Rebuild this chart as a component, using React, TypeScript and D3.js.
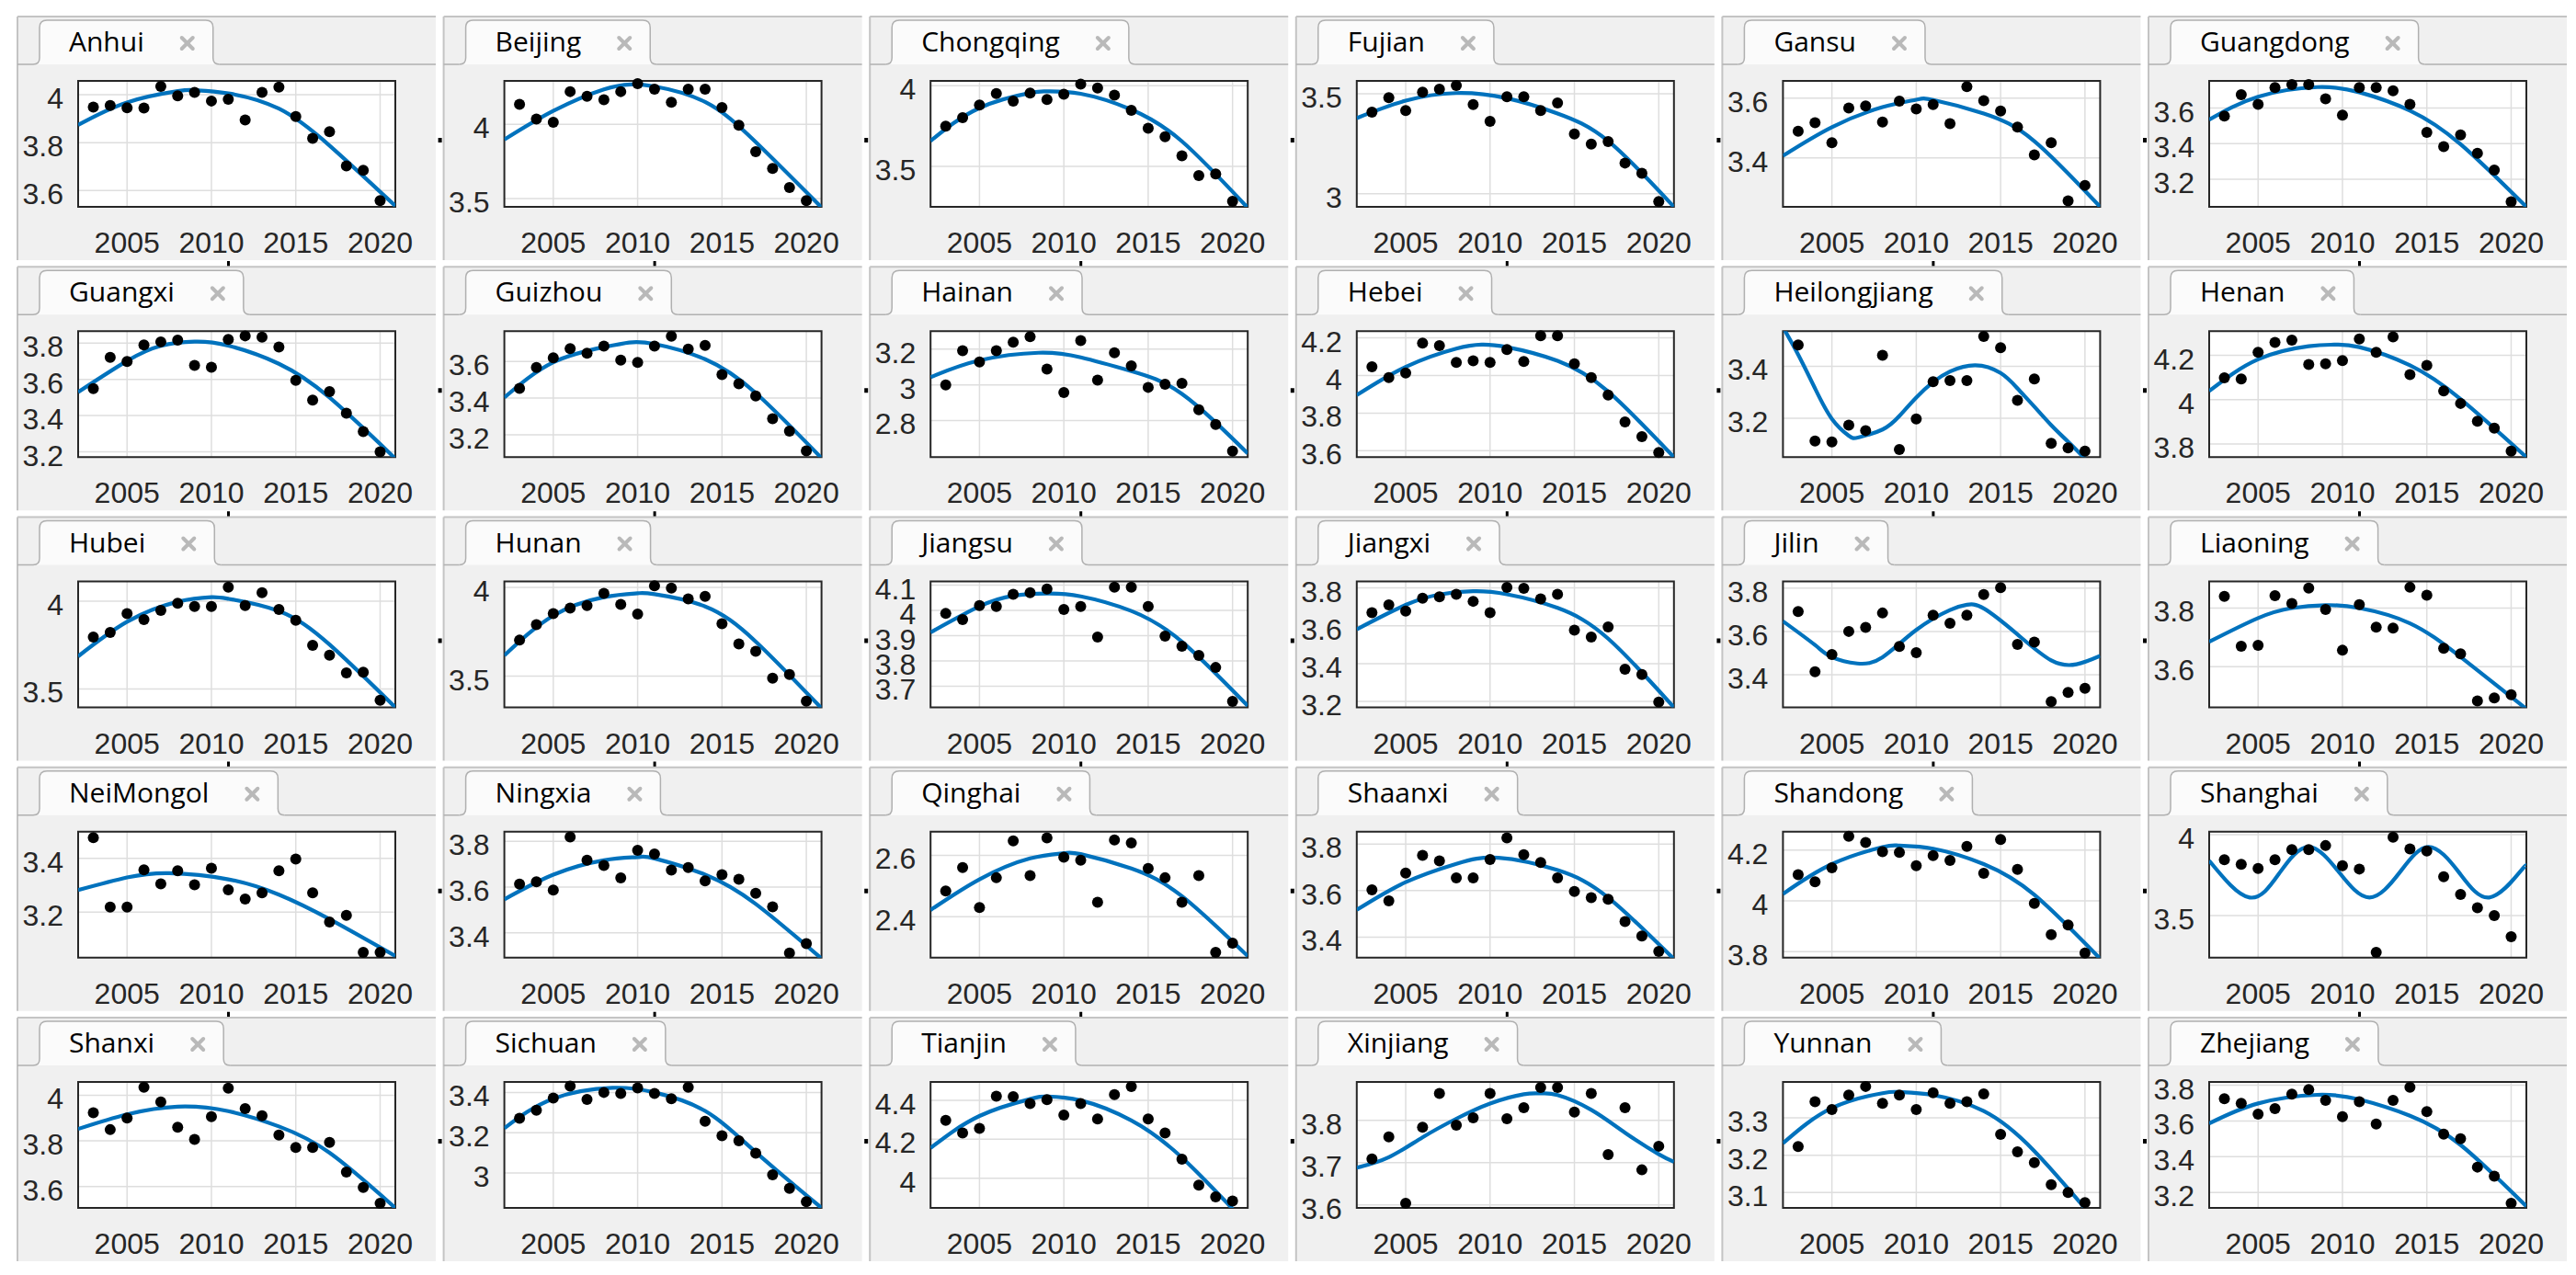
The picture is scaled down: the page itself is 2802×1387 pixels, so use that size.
import React from 'react';
import * as d3 from 'd3';

const provinces = ['Anhui','Beijing','Chongqing','Fujian','Gansu','Guangdong','Guangxi','Guizhou','Hainan','Hebei','Heilongjiang','Henan','Hubei','Hunan','Jiangsu','Jiangxi','Jilin','Liaoning','NeiMongol','Ningxia','Qinghai','Shaanxi','Shandong','Shanghai','Shanxi','Sichuan','Tianjin','Xinjiang','Yunnan','Zhejiang'];

const years = [2003,2004,2005,2006,2007,2008,2009,2010,2011,2012,2013,2014,2015,2016,2017,2018,2019,2020];
const xTicks = [2005, 2010, 2015, 2020];
const xDomain: [number, number] = [2002.1, 2020.9];

const values: number[][] = [
  [3.949,3.955,3.946,3.945,4.035,3.996,4.01,3.974,3.981,3.895,4.01,4.032,3.909,3.818,3.846,3.703,3.685,3.558],
  [4.134,4.035,4.014,4.220,4.189,4.165,4.220,4.274,4.237,4.148,4.237,4.237,4.113,3.994,3.815,3.702,3.574,3.486],
  [3.749,3.802,3.881,3.951,3.905,3.955,3.915,3.947,4.01,3.986,3.941,3.848,3.737,3.684,3.565,3.443,3.453,3.283],
  [3.408,3.480,3.416,3.508,3.523,3.541,3.446,3.362,3.485,3.485,3.416,3.454,3.298,3.248,3.260,3.153,3.102,2.960],
  [3.489,3.518,3.451,3.567,3.574,3.520,3.590,3.564,3.579,3.515,3.639,3.592,3.557,3.503,3.410,3.451,3.256,3.308],
  [3.555,3.675,3.621,3.715,3.732,3.732,3.652,3.561,3.715,3.715,3.697,3.621,3.463,3.384,3.449,3.346,3.252,3.074],
  [3.549,3.722,3.698,3.790,3.807,3.817,3.677,3.667,3.820,3.840,3.833,3.778,3.595,3.486,3.533,3.413,3.312,3.2],
  [3.453,3.567,3.62,3.67,3.645,3.683,3.607,3.595,3.683,3.737,3.667,3.687,3.528,3.478,3.412,3.287,3.22,3.112],
  [3.0,3.191,3.128,3.191,3.239,3.270,3.089,2.957,3.248,3.026,3.180,3.106,2.986,3.003,3.009,2.860,2.778,2.628],
  [4.046,3.989,4.013,4.172,4.159,4.070,4.078,4.07,4.138,4.075,4.211,4.211,4.062,3.989,3.896,3.753,3.675,3.591],
  [3.482,3.113,3.109,3.174,3.153,3.442,3.080,3.198,3.341,3.345,3.345,3.515,3.471,3.269,3.351,3.104,3.086,3.074],
  [4.099,4.093,4.214,4.258,4.269,4.159,4.162,4.176,4.274,4.214,4.283,4.113,4.155,4.039,3.983,3.903,3.872,3.768],
  [3.796,3.822,3.930,3.895,3.948,3.988,3.970,3.970,4.080,3.976,4.049,3.953,3.892,3.749,3.692,3.592,3.596,3.436],
  [3.703,3.79,3.853,3.884,3.898,3.967,3.905,3.850,4.009,3.997,3.936,3.95,3.795,3.681,3.640,3.488,3.509,3.359],
  [3.988,3.964,4.019,4.016,4.064,4.07,4.085,4.004,4.016,3.895,4.092,4.092,4.016,3.898,3.858,3.822,3.774,3.640],
  [3.669,3.710,3.677,3.745,3.753,3.766,3.729,3.669,3.803,3.798,3.742,3.766,3.577,3.540,3.594,3.371,3.342,3.197],
  [3.692,3.414,3.493,3.6,3.619,3.685,3.530,3.502,3.675,3.638,3.675,3.770,3.802,3.540,3.551,3.276,3.318,3.337],
  [3.840,3.670,3.673,3.842,3.816,3.868,3.795,3.656,3.812,3.735,3.732,3.871,3.844,3.663,3.644,3.483,3.493,3.504],
  [3.477,3.219,3.219,3.357,3.305,3.354,3.302,3.363,3.283,3.249,3.272,3.354,3.397,3.272,3.163,3.188,3.051,3.051],
  [3.613,3.623,3.587,3.819,3.717,3.694,3.640,3.761,3.744,3.674,3.685,3.627,3.654,3.634,3.573,3.513,3.311,3.352],
  [2.484,2.56,2.43,2.527,2.647,2.534,2.657,2.594,2.584,2.447,2.65,2.64,2.557,2.527,2.447,2.534,2.284,2.314],
  [3.603,3.556,3.675,3.751,3.728,3.655,3.655,3.734,3.826,3.754,3.721,3.655,3.596,3.570,3.563,3.467,3.405,3.339],
  [4.103,4.075,4.131,4.255,4.230,4.194,4.191,4.139,4.179,4.16,4.215,4.109,4.242,4.124,3.990,3.867,3.905,3.794],
  [3.846,3.817,3.792,3.846,3.908,3.908,3.933,3.808,3.788,3.273,3.985,3.913,3.900,3.740,3.631,3.548,3.5,3.369],
  [3.923,3.849,3.900,4.035,3.970,3.860,3.806,3.906,4.031,3.941,3.910,3.825,3.771,3.771,3.793,3.663,3.596,3.526],
  [3.272,3.311,3.372,3.431,3.365,3.4,3.395,3.422,3.395,3.369,3.426,3.257,3.185,3.160,3.098,2.991,2.923,2.857],
  [4.298,4.232,4.256,4.422,4.419,4.384,4.404,4.325,4.384,4.305,4.430,4.471,4.305,4.232,4.098,3.964,3.904,3.882],
  [3.709,3.761,3.604,3.784,3.864,3.789,3.806,3.864,3.804,3.830,3.878,3.878,3.820,3.864,3.719,3.830,3.683,3.739],
  [3.223,3.343,3.322,3.361,3.384,3.339,3.361,3.322,3.367,3.339,3.343,3.364,3.256,3.209,3.180,3.121,3.100,3.073],
  [3.724,3.698,3.638,3.669,3.750,3.775,3.715,3.624,3.707,3.583,3.715,3.789,3.652,3.526,3.501,3.342,3.291,3.140],
];

const yDomains: [number, number][] = [
  [3.532,4.058],[3.444,4.292],[3.249,4.03],[2.934,3.564],[3.236,3.658],[3.045,3.753],
  [3.171,3.866],[3.078,3.765],[2.595,3.301],[3.566,4.236],[3.051,3.535],[3.741,4.309],
  [3.395,4.113],[3.324,4.034],[3.616,4.115],[3.169,3.834],[3.249,3.831],[3.461,3.891],
  [3.031,3.499],[3.291,3.842],[2.267,2.677],[3.312,3.853],[3.776,4.273],[3.240,4.019],
  [3.506,4.058],[2.826,3.452],[3.847,4.495],[3.593,3.891],[3.059,3.396],[3.114,3.818],
];

const yTicks: number[][] = [
  [3.6,3.8,4],[3.5,4],[3.5,4],[3,3.5],[3.4,3.6],[3.2,3.4,3.6],
  [3.2,3.4,3.6,3.8],[3.2,3.4,3.6],[2.8,3,3.2],[3.6,3.8,4,4.2],[3.2,3.4],[3.8,4,4.2],
  [3.5,4],[3.5,4],[3.7,3.8,3.9,4,4.1],[3.2,3.4,3.6,3.8],[3.4,3.6,3.8],[3.6,3.8],
  [3.2,3.4],[3.4,3.6,3.8],[2.4,2.6],[3.4,3.6,3.8],[3.8,4,4.2],[3.5,4],
  [3.6,3.8,4],[3,3.2,3.4],[4,4.2,4.4],[3.6,3.7,3.8],[3.1,3.2,3.3],[3.2,3.4,3.6,3.8],
];

// fitted curves as [year, value] knots
const fitCurves: [number, number][][] = [
  [[2002.1,3.874],[2005,3.968],[2008,4.015],[2009,4.019],[2011,4.006],[2014,3.942],[2017,3.788],[2020.9,3.536]],
  [[2002.1,3.897],[2005,4.09],[2008,4.235],[2009.6,4.268],[2011,4.255],[2014,4.15],[2017,3.88],[2020.9,3.44]],
  [[2002.1,3.658],[2005,3.862],[2008,3.955],[2009,3.965],[2011,3.95],[2014,3.852],[2017,3.655],[2020.9,3.243]],
  [[2002.1,3.378],[2005,3.465],[2008,3.503],[2011,3.477],[2014,3.401],[2017,3.263],[2020.9,2.934]],
  [[2002.1,3.407],[2005,3.503],[2008,3.570],[2010,3.595],[2011,3.594],[2014,3.549],[2017,3.456],[2020.9,3.236]],
  [[2002.1,3.535],[2005,3.664],[2008.5,3.718],[2011,3.689],[2014,3.586],[2017,3.397],[2020.9,3.045]],
  [[2002.1,3.530],[2005,3.702],[2007,3.785],[2009,3.808],[2011,3.786],[2014,3.686],[2017,3.5],[2020.9,3.163]],
  [[2002.1,3.403],[2005,3.595],[2008,3.678],[2009.5,3.703],[2011,3.695],[2014,3.612],[2017,3.428],[2020.9,3.073]],
  [[2002.1,3.043],[2005,3.137],[2008.5,3.18],[2011,3.154],[2014,3.077],[2017,2.949],[2020.9,2.616]],
  [[2002.1,3.896],[2005,4.046],[2008,4.143],[2009.5,4.164],[2011,4.151],[2014,4.078],[2017,3.915],[2020.9,3.566]],
  [[2002.1,3.55],[2003,3.445],[2004,3.315],[2005,3.198],[2006,3.133],[2006.6,3.127],[2008,3.157],[2009,3.209],[2010,3.28],[2011,3.339],[2012,3.38],[2013.5,3.404],[2015,3.374],[2016,3.315],[2017,3.245],[2018,3.174],[2019,3.11],[2020,3.045],[2020.9,2.985]],
  [[2002.1,4.039],[2005,4.182],[2008,4.241],[2009.5,4.248],[2011,4.237],[2014,4.155],[2017,4.003],[2020.9,3.741]],
  [[2002.1,3.686],[2005,3.883],[2008,3.997],[2010,4.023],[2011,4.014],[2014,3.944],[2017,3.753],[2020.9,3.395]],
  [[2002.1,3.617],[2005,3.841],[2008,3.945],[2010,3.967],[2011,3.962],[2014,3.893],[2017,3.695],[2020.9,3.319]],
  [[2002.1,3.913],[2005,4.016],[2007,4.058],[2009,4.067],[2011,4.056],[2014,3.998],[2017,3.876],[2020.9,3.622]],
  [[2002.1,3.581],[2005,3.710],[2007,3.765],[2009,3.782],[2011,3.766],[2014,3.694],[2017,3.532],[2020.9,3.169]],
  [[2002.1,3.647],[2004,3.537],[2005,3.481],[2006.5,3.452],[2008,3.481],[2010,3.607],[2012,3.699],[2013,3.723],[2014,3.706],[2016,3.586],[2018,3.466],[2019.5,3.448],[2020.9,3.487]],
  [[2002.1,3.685],[2005,3.766],[2007,3.80],[2009,3.810],[2011,3.8],[2014,3.748],[2017,3.633],[2020.9,3.456]],
  [[2002.1,3.282],[2005,3.329],[2007.5,3.345],[2011,3.322],[2014,3.265],[2017,3.174],[2020.9,3.037]],
  [[2002.1,3.546],[2005,3.654],[2008,3.717],[2010,3.731],[2011,3.725],[2014,3.654],[2017,3.526],[2020.9,3.287]],
  [[2002.1,2.422],[2005,2.522],[2008,2.59],[2010,2.607],[2011,2.604],[2014,2.557],[2017,2.467],[2020.9,2.272]],
  [[2002.1,3.517],[2005,3.636],[2008,3.715],[2010.5,3.741],[2014,3.688],[2017,3.570],[2020.9,3.306]],
  [[2002.1,4.027],[2005,4.145],[2008,4.212],[2009,4.218],[2011,4.206],[2014,4.145],[2017,4.024],[2020.9,3.772]],
  [[2002.1,3.84],[2004.5,3.612],[2006.3,3.768],[2008,3.925],[2009.8,3.768],[2011.6,3.612],[2013.4,3.768],[2015.1,3.925],[2016.9,3.768],[2018.7,3.612],[2020.5,3.768],[2020.9,3.81]],
  [[2002.1,3.852],[2005,3.916],[2008,3.950],[2011,3.930],[2014,3.863],[2017,3.748],[2020.9,3.506]],
  [[2002.1,3.222],[2005,3.369],[2008.5,3.423],[2011,3.4],[2014,3.308],[2017,3.103],[2020.9,2.826]],
  [[2002.1,4.155],[2005,4.320],[2008,4.407],[2009,4.42],[2011,4.4],[2014,4.297],[2017,4.106],[2020.9,3.76]],
  [[2002.1,3.688],[2004,3.713],[2006,3.760],[2008,3.804],[2010,3.840],[2012,3.862],[2013,3.864],[2014,3.86],[2016,3.825],[2018,3.771],[2020,3.72],[2020.9,3.702]],
  [[2002.1,3.232],[2005,3.326],[2008,3.366],[2009,3.369],[2011,3.361],[2014,3.318],[2017,3.211],[2020.9,3.01]],
  [[2002.1,3.586],[2005,3.698],[2008.5,3.746],[2011,3.72],[2014,3.629],[2017,3.466],[2020.9,3.123]],
];

const W = 2802, H = 1387;
const COLS = 6;
const LEFT0 = 19, COL_PITCH = 463.6, PANEL_W = 455;
const TOP0 = 18, ROW_PITCH = 272.25, PANEL_H = 265;
const PLOT_DX = 66, PLOT_DY = 70, PLOT_W = 345, PLOT_H = 137;

const TITLE_FONT = '30px "Open Sans"';
const TICK_FONT_FAMILY = '"Liberation Sans", Arial, sans-serif';

let ctx: CanvasRenderingContext2D | null = null;
function measure(text: string): number {
  if (!ctx) ctx = document.createElement('canvas').getContext('2d');
  if (!ctx) return text.length * 15;
  ctx.font = TITLE_FONT;
  return ctx.measureText(text).width;
}

function fmt(v: number) {
  return String(+v.toFixed(2));
}

function Panel({ i }: { i: number }) {
  const col = i % COLS, row = Math.floor(i / COLS);
  const x0 = LEFT0 + col * COL_PITCH;
  const y0 = TOP0 + row * ROW_PITCH;
  const px = x0 + PLOT_DX, py = y0 + PLOT_DY;
  const x = d3.scaleLinear().domain(xDomain).range([px, px + PLOT_W]);
  const y = d3.scaleLinear().domain(yDomains[i]).range([py + PLOT_H, py]);
  const line = d3.line<[number, number]>().x(d => x(d[0])).y(d => y(d[1])).curve(d3.curveNatural);
  const name = provinces[i];
  const tw = measure(name);
  const textX = x0 + 56;
  const tabL = x0 + 24;
  const tabR = textX + tw + 75;
  const tabT = y0 + 4;
  const tabB = y0 + 52;
  const closeX = textX + tw + 47, closeY = y0 + 29;
  const tabPath = `M ${tabL - 7} ${tabB} Q ${tabL} ${tabB} ${tabL} ${tabB - 7} L ${tabL} ${tabT + 8} Q ${tabL} ${tabT} ${tabL + 8} ${tabT} L ${tabR - 8} ${tabT} Q ${tabR} ${tabT} ${tabR} ${tabT + 8} L ${tabR} ${tabB - 7} Q ${tabR} ${tabB} ${tabR + 7} ${tabB}`;
  const clipId = `clip-${i}`;
  return (
    <g>
      <rect x={x0} y={y0} width={PANEL_W} height={PANEL_H} fill="#f0f0f0" />
      <line x1={x0} y1={y0} x2={x0 + PANEL_W} y2={y0} stroke="#c4c4c4" strokeWidth={2} />
      <line x1={x0} y1={y0} x2={x0} y2={y0 + PANEL_H} stroke="#c4c4c4" strokeWidth={2} />
      <line x1={x0} y1={tabB} x2={tabL - 7} y2={tabB} stroke="#b0b0b0" strokeWidth={1.5} />
      <line x1={tabR + 7} y1={tabB} x2={x0 + PANEL_W} y2={tabB} stroke="#b0b0b0" strokeWidth={1.5} />
      <path d={tabPath + ' Z'} fill="#fbfbfb" stroke="none" />
      <path d={tabPath} fill="none" stroke="#b0b0b0" strokeWidth={1.5} />
      <text x={textX} y={y0 + 38} style={{ font: TITLE_FONT }} fill="#000">{name}</text>
      <g stroke="#b9b9b9" strokeWidth={4} strokeLinecap="round">
        <line x1={closeX - 6} y1={closeY - 6} x2={closeX + 6} y2={closeY + 6} />
        <line x1={closeX + 6} y1={closeY - 6} x2={closeX - 6} y2={closeY + 6} />
      </g>
      <defs>
        <clipPath id={clipId}>
          <rect x={px} y={py} width={PLOT_W} height={PLOT_H} />
        </clipPath>
      </defs>
      <rect x={px} y={py} width={PLOT_W} height={PLOT_H} fill="#ffffff" />
      <g stroke="#dedede" strokeWidth={1.5}>
        {xTicks.map(t => (
          <line key={'gx' + t} x1={x(t)} x2={x(t)} y1={py} y2={py + PLOT_H} />
        ))}
        {yTicks[i].map(t => (
          <line key={'gy' + t} x1={px} x2={px + PLOT_W} y1={y(t)} y2={y(t)} />
        ))}
      </g>
      <rect x={px} y={py} width={PLOT_W} height={PLOT_H} fill="none" stroke="#262626" strokeWidth={2} />
      <path d={line(fitCurves[i]) || ''} fill="none" stroke="#0072BD" strokeWidth={4.2} clipPath={`url(#${clipId})`} />
      {values[i].map((v, k) => (
        <circle key={k} cx={x(years[k])} cy={y(v)} r={6} fill="#000" />
      ))}
      {xTicks.map(t => (
        <text key={'tx' + t} x={x(t)} y={py + PLOT_H + 50} textAnchor="middle" fontFamily={TICK_FONT_FAMILY} fontSize={32} fill="#262626">{t}</text>
      ))}
      {yTicks[i].map(t => (
        <text key={'ty' + t} x={px - 16} y={y(t) + 15} textAnchor="end" fontFamily={TICK_FONT_FAMILY} fontSize={32} fill="#262626">{fmt(t)}</text>
      ))}
      {col > 0 && <rect x={x0 - 6} y={py + 62} width={4} height={5} fill="#000" />}
      {row < 4 && <rect x={x0 + 228} y={y0 + PANEL_H + 1} width={3} height={6} fill="#000" />}
    </g>
  );
}

export default function App() {
  return (
    <svg width={W} height={H} viewBox={`0 0 ${W} ${H}`} style={{ position: 'absolute', left: 0, top: 0, background: '#fff' }}>
      <rect x={0} y={0} width={W} height={H} fill="#ffffff" />
      {provinces.map((_, i) => <Panel key={i} i={i} />)}
    </svg>
  );
}
